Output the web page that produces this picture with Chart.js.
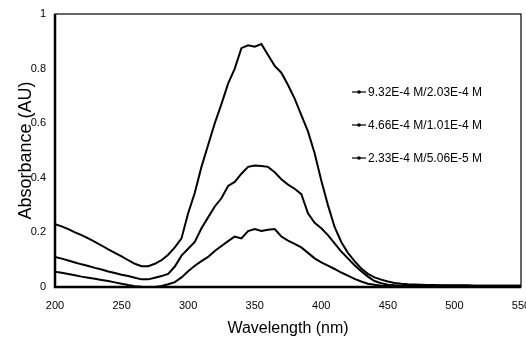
<!DOCTYPE html>
<html>
<head>
<meta charset="utf-8">
<script src="https://cdn.jsdelivr.net/npm/chart.js@4.4.0/dist/chart.umd.min.js"></script>
<style>
  html, body { margin: 0; padding: 0; background: #fff; }
  #wrap { width: 526px; height: 339px; }
</style>
</head>
<body>
<div id="wrap"><canvas id="chart" width="526" height="339"></canvas></div>
<script>
// wavelength grid (nm)
const wavelengths = [
  200, 205, 210, 215, 220, 225, 230, 235, 240, 245,
  250, 255, 260, 265, 270, 275, 280, 285, 290, 295,
  300, 305, 310, 315, 320, 325, 330, 335, 340, 345,
  350, 355, 360, 365, 370, 375, 380, 385, 390, 395,
  400, 405, 410, 415, 420, 425, 430, 435, 440, 445,
  450, 455, 460, 465, 470, 475, 480, 485, 490, 495,
  500, 505, 510, 515, 520, 525, 530, 535, 540, 545, 550
];

const seriesLabels = ['9.32E-4 M/2.03E-4 M', '4.66E-4 M/1.01E-4 M', '2.33E-4 M/5.06E-5 M'];

// absorbance (AU)
const absHigh = [
  0.230, 0.222, 0.212, 0.200, 0.190, 0.178, 0.165, 0.152, 0.138, 0.125,
  0.112, 0.098, 0.085, 0.076, 0.076, 0.085, 0.098, 0.118, 0.145, 0.178,
  0.270, 0.345, 0.440, 0.520, 0.600, 0.670, 0.745, 0.800, 0.875, 0.885,
  0.880, 0.890, 0.850, 0.810, 0.785, 0.740, 0.690, 0.630, 0.570, 0.490,
  0.390, 0.300, 0.220, 0.165, 0.125, 0.095, 0.068, 0.048, 0.035, 0.027,
  0.020, 0.015, 0.012, 0.010, 0.009, 0.008, 0.007, 0.007, 0.006, 0.006,
  0.006, 0.006, 0.006, 0.005, 0.005, 0.005, 0.005, 0.005, 0.005, 0.005, 0.005
];
const absMid = [
  0.110, 0.104, 0.097, 0.090, 0.083, 0.077, 0.070, 0.064, 0.057, 0.051,
  0.045, 0.040, 0.034, 0.028, 0.028, 0.034, 0.040, 0.048, 0.075, 0.115,
  0.140, 0.165, 0.215, 0.255, 0.295, 0.325, 0.370, 0.385, 0.415, 0.440,
  0.445, 0.443, 0.440, 0.420, 0.395, 0.375, 0.360, 0.340, 0.270, 0.235,
  0.215, 0.190, 0.160, 0.130, 0.105, 0.080, 0.058, 0.038, 0.022, 0.014,
  0.008, 0.006, 0.005, 0.005, 0.005, 0.005, 0.005, 0.005, 0.005, 0.005,
  0.005, 0.005, 0.005, 0.005, 0.005, 0.005, 0.005, 0.005, 0.005, 0.005, 0.005
];
const absLow = [
  0.056, 0.052, 0.048, 0.043, 0.038, 0.034, 0.030, 0.026, 0.022, 0.017,
  0.012, 0.007, 0.003, 0.001, 0.000, 0.000, 0.004, 0.010, 0.018, 0.035,
  0.058, 0.078, 0.095, 0.110, 0.132, 0.150, 0.168, 0.185, 0.178, 0.205,
  0.212, 0.205, 0.210, 0.212, 0.185, 0.170, 0.158, 0.145, 0.125, 0.105,
  0.090, 0.078, 0.066, 0.053, 0.042, 0.030, 0.020, 0.012, 0.008, 0.005,
  0.004, 0.004, 0.004, 0.004, 0.004, 0.004, 0.004, 0.004, 0.004, 0.004,
  0.004, 0.004, 0.004, 0.004, 0.004, 0.004, 0.004, 0.004, 0.004, 0.004, 0.004
];

const xTicks = [200, 250, 300, 350, 400, 450, 500, 550];
const yTicks = [0, 0.2, 0.4, 0.6, 0.8, 1];

const toPoints = (vals) => vals.map((v, i) => ({ x: wavelengths[i], y: v }));

// plot frame: full box, heavier on the left and bottom
const frame = {
  id: 'frame',
  afterDatasetsDraw(chart) {
    const { ctx, chartArea: a } = chart;
    ctx.save();
    ctx.strokeStyle = '#000';
    ctx.lineWidth = 1.2;
    ctx.strokeRect(a.left, a.top, a.right - a.left, a.bottom - a.top);
    ctx.lineWidth = 2.5;
    ctx.beginPath();
    ctx.moveTo(a.left, a.top);
    ctx.lineTo(a.left, a.bottom);
    ctx.lineTo(a.right, a.bottom);
    ctx.stroke();
    ctx.restore();
  }
};

// legend drawn inside the plot, right of the peak
const innerLegend = {
  id: 'innerLegend',
  afterDraw(chart) {
    const { ctx } = chart;
    const x0 = 352, y0 = 92, gap = 33;
    ctx.save();
    ctx.font = '12px "Liberation Sans", Arial, sans-serif';
    ctx.textBaseline = 'middle';
    ctx.fillStyle = '#000';
    ctx.strokeStyle = '#000';
    chart.data.datasets.forEach((ds, i) => {
      const y = y0 + i * gap;
      ctx.lineWidth = 1.2;
      ctx.beginPath();
      ctx.moveTo(x0, y);
      ctx.lineTo(x0 + 14, y);
      ctx.stroke();
      ctx.beginPath();
      ctx.arc(x0 + 7, y, 1.8, 0, Math.PI * 2);
      ctx.fill();
      ctx.fillText(ds.label, x0 + 16, y + 1);
    });
    ctx.restore();
  }
};

const lineStyle = {
  borderColor: '#000',
  borderWidth: 2,
  pointRadius: 0,
  tension: 0,
  fill: false
};

new Chart(document.getElementById('chart').getContext('2d'), {
  type: 'line',
  data: {
    datasets: [
      { label: seriesLabels[0], data: toPoints(absHigh), ...lineStyle },
      { label: seriesLabels[1], data: toPoints(absMid), ...lineStyle },
      { label: seriesLabels[2], data: toPoints(absLow), ...lineStyle }
    ]
  },
  options: {
    responsive: false,
    animation: false,
    layout: { padding: { top: 14, right: 5, left: 0, bottom: 0 } },
    plugins: {
      legend: { display: false },
      tooltip: { enabled: false }
    },
    scales: {
      x: {
        type: 'linear',
        min: 200,
        max: 550,
        afterFit(s) { s.height = 52; s.paddingLeft = 0; s.paddingRight = 0; },
        afterBuildTicks(s) { s.ticks = xTicks.map(v => ({ value: v })); },
        grid: { display: false, drawTicks: false },
        border: { display: false },
        ticks: {
          padding: 12,
          color: '#000',
          maxRotation: 0,
          autoSkip: false,
          font: { family: '"Liberation Sans", Arial', size: 11 }
        },
        title: {
          display: true,
          text: 'Wavelength (nm)',
          color: '#000',
          padding: { top: 0, bottom: 1 },
          font: { family: '"Liberation Sans", Arial', size: 16 }
        }
      },
      y: {
        min: 0,
        max: 1,
        afterFit(s) { s.width = 55; s.paddingTop = 0; s.paddingBottom = 0; },
        afterBuildTicks(s) { s.ticks = yTicks.map(v => ({ value: v })); },
        grid: { display: false, drawTicks: false },
        border: { display: false },
        ticks: {
          padding: 9,
          color: '#000',
          callback: (v) => String(v),
          font: { family: '"Liberation Sans", Arial', size: 11 }
        },
        title: {
          display: true,
          text: 'Absorbance (AU)',
          color: '#000',
          padding: { top: 15, bottom: 0 },
          font: { family: '"Liberation Sans", Arial', size: 18 }
        }
      }
    }
  },
  plugins: [frame, innerLegend]
});
</script>
</body>
</html>
